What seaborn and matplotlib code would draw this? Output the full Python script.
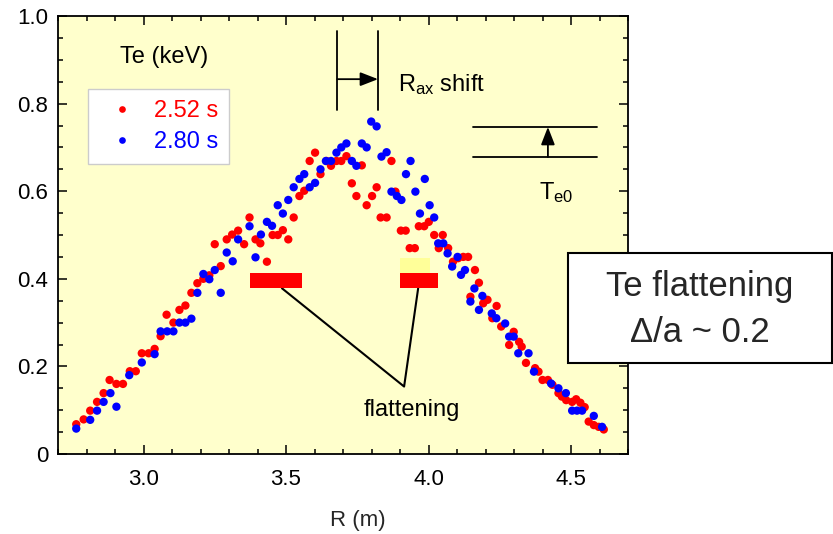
import numpy as np
import pandas as pd
import matplotlib
matplotlib.use("Agg")
import matplotlib.pyplot as plt
from matplotlib.patches import Rectangle
from matplotlib.ticker import MultipleLocator
import seaborn as sns

# Electron temperature profiles Te(R) at two times
r_252 = [2.764, 2.79, 2.813, 2.837, 2.86, 2.881, 2.905, 2.928, 2.952, 2.973,
         2.994, 3.018, 3.039, 3.06, 3.081, 3.105, 3.126, 3.147, 3.168, 3.189,
         3.21, 3.231, 3.25, 3.271, 3.292, 3.311, 3.332, 3.353, 3.372, 3.393,
         3.41, 3.433, 3.453, 3.471, 3.489, 3.508, 3.527, 3.547, 3.564, 3.583,
         3.602, 3.621, 3.642, 3.658, 3.677, 3.694, 3.712, 3.731, 3.747, 3.766,
         3.783, 3.802, 3.818, 3.832, 3.853, 3.87, 3.884, 3.903, 3.92, 3.934,
         3.952, 3.966, 3.985, 4.001, 4.02, 4.036, 4.05, 4.069, 4.086, 4.104,
         4.122, 4.139, 4.147, 4.163, 4.177, 4.192, 4.207, 4.224, 4.239, 4.255,
         4.283, 4.299, 4.318, 4.327, 4.342, 4.374, 4.386, 4.400, 4.419, 4.435,
         4.456, 4.468, 4.483, 4.504, 4.518, 4.533, 4.548, 4.562, 4.58, 4.597,
         4.615]
te_252 = [0.068, 0.079, 0.099, 0.119, 0.139, 0.169, 0.160, 0.160, 0.189, 0.189,
          0.230, 0.230, 0.240, 0.269, 0.318, 0.300, 0.329, 0.339, 0.368, 0.390,
          0.400, 0.408, 0.479, 0.429, 0.490, 0.501, 0.510, 0.479, 0.540, 0.490,
          0.481, 0.439, 0.500, 0.500, 0.511, 0.490, 0.540, 0.589, 0.601, 0.669,
          0.688, 0.639, 0.669, 0.658, 0.669, 0.669, 0.680, 0.618, 0.589, 0.659,
          0.568, 0.589, 0.609, 0.540, 0.540, 0.669, 0.599, 0.510, 0.510, 0.470,
          0.470, 0.520, 0.520, 0.530, 0.500, 0.470, 0.500, 0.470, 0.439, 0.447,
          0.450, 0.450, 0.359, 0.420, 0.391, 0.344, 0.352, 0.310, 0.338, 0.291,
          0.249, 0.279, 0.256, 0.245, 0.208, 0.196, 0.188, 0.169, 0.169, 0.158,
          0.139, 0.131, 0.123, 0.119, 0.125, 0.117, 0.107, 0.074, 0.066, 0.062,
          0.056]

r_280 = [2.764, 2.813, 2.837, 2.86, 2.884, 2.905, 2.95, 2.994, 3.039, 3.06,
         3.083, 3.105, 3.126, 3.147, 3.168, 3.189, 3.21, 3.231, 3.25, 3.271,
         3.292, 3.313, 3.332, 3.372, 3.393, 3.412, 3.433, 3.451, 3.471, 3.489,
         3.508, 3.527, 3.547, 3.564, 3.583, 3.602, 3.621, 3.640, 3.658, 3.677,
         3.694, 3.712, 3.731, 3.747, 3.766, 3.783, 3.799, 3.818, 3.835, 3.853,
         3.87, 3.889, 3.905, 3.921, 3.937, 3.954, 3.970, 3.987, 4.004, 4.020,
         4.034, 4.052, 4.067, 4.083, 4.102, 4.114, 4.128, 4.147, 4.161, 4.177,
         4.189, 4.222, 4.238, 4.269, 4.283, 4.299, 4.315, 4.351, 4.370, 4.430,
         4.456, 4.482, 4.504, 4.521, 4.539, 4.58, 4.609]
te_280 = [0.058, 0.078, 0.099, 0.119, 0.139, 0.108, 0.180, 0.209, 0.228, 0.280,
          0.280, 0.280, 0.300, 0.300, 0.309, 0.368, 0.411, 0.399, 0.420, 0.368,
          0.460, 0.440, 0.490, 0.520, 0.449, 0.501, 0.530, 0.521, 0.568, 0.549,
          0.580, 0.609, 0.628, 0.639, 0.609, 0.619, 0.650, 0.669, 0.669, 0.688,
          0.700, 0.709, 0.669, 0.658, 0.709, 0.700, 0.759, 0.748, 0.679, 0.689,
          0.599, 0.589, 0.580, 0.639, 0.669, 0.599, 0.549, 0.628, 0.568, 0.540,
          0.481, 0.481, 0.458, 0.428, 0.450, 0.409, 0.420, 0.348, 0.378, 0.329,
          0.361, 0.321, 0.310, 0.298, 0.268, 0.268, 0.230, 0.230, 0.188, 0.161,
          0.150, 0.139, 0.099, 0.099, 0.099, 0.087, 0.062]

series_labels = ["2.52 s", "2.80 s"]
series_colors = ["#ff0000", "#0000ff"]

df = pd.concat([
    pd.DataFrame({"R": r_252, "Te": te_252, "time": series_labels[0]}),
    pd.DataFrame({"R": r_280, "Te": te_280, "time": series_labels[1]}),
], ignore_index=True)

sns.set_theme(style="ticks")
plt.rcParams["font.family"] = ["Liberation Sans", "DejaVu Sans"]
plt.rcParams["mathtext.fontset"] = "custom"
plt.rcParams["mathtext.rm"] = "Liberation Sans"
plt.rcParams["mathtext.it"] = "Liberation Sans"

fig = plt.figure(figsize=(8.33, 5.34), dpi=100)
fig.patch.set_facecolor("white")
ax = fig.add_axes([58 / 833, 80 / 534, 570 / 833, 438 / 534])
ax.set_facecolor("#ffffcc")

sns.scatterplot(data=df, x="R", y="Te", hue="time", palette=series_colors,
                hue_order=series_labels, s=36, linewidth=0, ax=ax, zorder=3)

ax.set_xlim(2.7, 4.7)
ax.set_ylim(0, 1.0)
ax.xaxis.set_major_locator(MultipleLocator(0.5))
ax.xaxis.set_minor_locator(MultipleLocator(0.1))
ax.yaxis.set_major_locator(MultipleLocator(0.2))
ax.yaxis.set_minor_locator(MultipleLocator(0.05))
ax.set_xticks([3.0, 3.5, 4.0, 4.5])
ax.set_xticklabels(["3.0", "3.5", "4.0", "4.5"])
ax.set_yticks([0, 0.2, 0.4, 0.6, 0.8, 1.0])
ax.set_yticklabels(["0", "0.2", "0.4", "0.6", "0.8", "1.0"])
ax.tick_params(which="both", direction="in", top=True, right=True,
               colors="black", labelsize=16, width=1.1)
ax.tick_params(which="major", length=6.5)
ax.tick_params(axis="y", which="major", pad=7)
ax.tick_params(axis="x", which="major", pad=11)
ax.tick_params(which="minor", length=3.6)
for sp in ax.spines.values():
    sp.set_visible(True)
    sp.set_color("black")
    sp.set_linewidth(1.3)

ax.set_xlabel("R (m)", fontsize=16, labelpad=14)
ax.set_ylabel("")
ax.xaxis.label.set_x(0.526)

# legend with coloured labels
handles, labels = ax.get_legend_handles_labels()
leg = ax.legend(handles, labels, loc="upper left", bbox_to_anchor=(0.0526, 0.833),
                borderaxespad=0, fontsize=17, frameon=True, fancybox=False,
                framealpha=1, edgecolor="#cccccc", borderpad=0.45,
                handlelength=2.0, handletextpad=0.35, labelspacing=0.4,
                markerscale=0.8, labelcolor=series_colors)
leg.get_frame().set_linewidth(1.0)

ax.text(0.186, 0.906, "Te (keV)", transform=ax.transAxes, fontsize=17,
        ha="center", va="center", color="black")

# R_ax shift marker
for xv in (3.6796, 3.8229):
    ax.plot([xv, xv], [0.7849, 0.9664], color="black", lw=1.3, zorder=4)
ax.annotate("", xy=(3.8229, 0.8558), xytext=(3.6796, 0.8558),
            arrowprops=dict(arrowstyle="-|>,head_length=0.9,head_width=0.35",
                            color="black", lw=1.3, shrinkA=0, shrinkB=0))
ax.text(3.893, 0.829, r"R$_{\mathrm{ax}}$ shift", fontsize=17, ha="left",
        va="baseline", color="black")

# Te0 rise marker
for yv in (0.678, 0.7467):
    ax.plot([4.1574, 4.5915], [yv, yv], color="black", lw=1.3, zorder=4)
ax.annotate("", xy=(4.419, 0.7467), xytext=(4.419, 0.678),
            arrowprops=dict(arrowstyle="-|>,head_length=0.9,head_width=0.35",
                            color="black", lw=1.3, shrinkA=0, shrinkB=0))
ax.text(4.386, 0.581, r"T$_{\mathrm{e0}}$", fontsize=17, ha="left",
        va="baseline", color="black")

# flattening regions
ax.add_patch(Rectangle((3.9014, 0.4135), 4.007 - 3.9014, 0.4478 - 0.4135,
                       facecolor="#ffff99", edgecolor="none", zorder=5))
ax.add_patch(Rectangle((3.3732, 0.3783), 3.5563 - 3.3732, 0.4135 - 0.3783,
                       facecolor="#ff0000", edgecolor="none", zorder=5))
ax.add_patch(Rectangle((3.9014, 0.3783), 4.0317 - 3.9014, 0.4135 - 0.3783,
                       facecolor="#ff0000", edgecolor="none", zorder=5))
ax.plot([3.4859, 3.9144, 3.9637], [0.3783, 0.154, 0.3783], color="black",
        lw=1.5, zorder=4)
ax.text(3.7736, 0.1007, "flattening", fontsize=17, ha="left", va="center",
        color="black")

# summary box at the right
fig.patches.append(Rectangle((567.7 / 833, (534 - 362.7) / 534),
                             (831.7 - 567.7) / 833, 110 / 534,
                             transform=fig.transFigure, facecolor="white",
                             edgecolor="black", linewidth=1.5, zorder=10))
fig.text(699.7 / 833, (534 - 286.7) / 534, "Te flattening", fontsize=25,
         ha="center", va="center", zorder=11)
fig.text(699.7 / 833, (534 - 333) / 534, "\u0394/a ~ 0.2", fontsize=25,
         ha="center", va="center", zorder=11)

fig.savefig("out.png", dpi=100)
